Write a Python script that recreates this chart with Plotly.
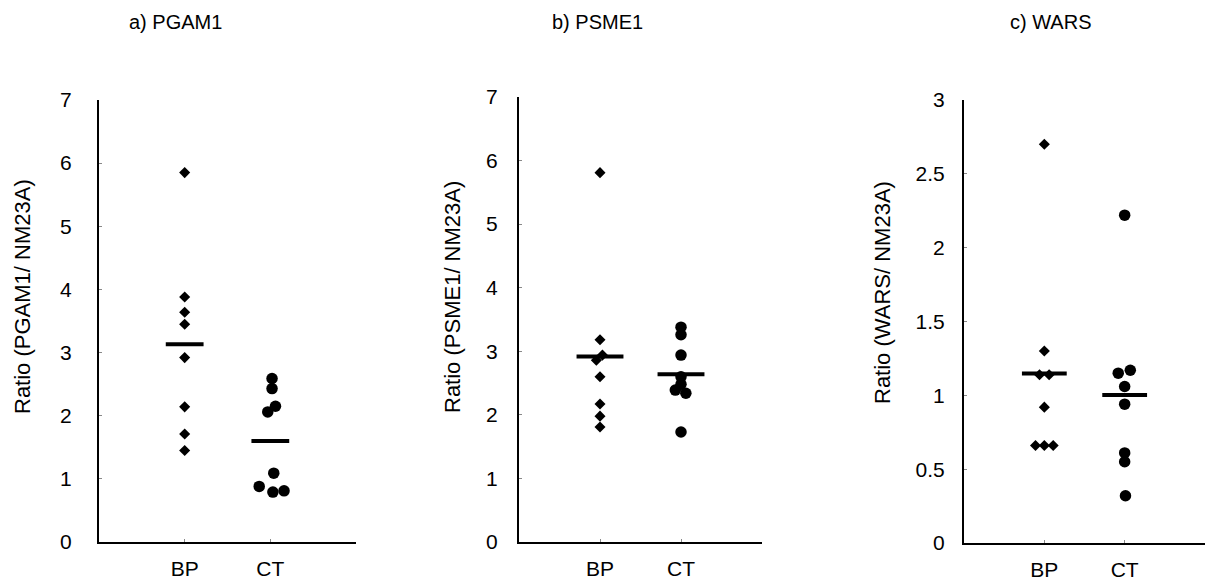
import plotly.graph_objects as go

W, H = 1205, 584

categories = ["BP", "CT"]
panel_titles = ["a) PGAM1", "b) PSME1", "c) WARS"]
y_titles = ["Ratio (PGAM1/ NM23A)", "Ratio (PSME1/ NM23A)", "Ratio (WARS/ NM23A)"]

# Panel a: PGAM1
pgam1_bp = [5.85, 3.88, 3.64, 3.45, 2.92, 2.14, 1.71, 1.45]
pgam1_bp_x = [1, 1, 1, 1, 1, 1, 1, 1]
pgam1_ct = [2.59, 2.43, 2.15, 2.06, 1.09, 0.88, 0.79, 0.81]
pgam1_ct_x = [2.02, 2.02, 2.06, 1.97, 2.04, 1.87, 2.03, 2.16]

# Panel b: PSME1
psme1_bp = [5.81, 3.18, 2.94, 2.86, 2.60, 2.17, 1.98, 1.81]
psme1_bp_x = [1, 1, 1.03, 0.955, 1, 1, 1, 1]
psme1_ct = [3.38, 3.26, 2.94, 2.60, 2.48, 2.39, 2.34, 1.73]
psme1_ct_x = [2, 2, 2, 2, 2, 1.93, 2.06, 2]

# Panel c: WARS
wars_bp = [2.70, 1.30, 1.14, 1.14, 0.92, 0.66, 0.66, 0.66]
wars_bp_x = [1, 1, 0.94, 1.06, 1, 0.89, 1, 1.11]
wars_ct = [2.22, 1.17, 1.15, 1.06, 0.94, 0.61, 0.55, 0.32]
wars_ct_x = [2, 2.07, 1.92, 2, 2, 2, 2, 2.01]

y_ranges = [[0, 7], [0, 7], [0, 3]]
y_dticks = [1, 1, 0.5]

FONT = "Liberation Sans, Arial, sans-serif"
FS = 21

# layout in pixels (left, right, top, bottom of plot area)
boxes = [(99, 356, 100, 542), (519, 762, 97, 542), (964, 1205, 100, 543)]
label_standoff = [21, 15, 13]
mean_sizes = [27, 33.5, 32]
title_pos = [(175, 22), (597, 22), (1050, 22)]
ytitle_pos = [(22, 297), (452, 297), (882, 293)]

panels = [
    (pgam1_bp_x, pgam1_bp, pgam1_ct_x, pgam1_ct),
    (psme1_bp_x, psme1_bp, psme1_ct_x, psme1_ct),
    (wars_bp_x, wars_bp, wars_ct_x, wars_ct),
]

fig = go.Figure()
annotations = []
for i, (bx, by, cx, cy) in enumerate(panels):
    sfx = "" if i == 0 else str(i + 1)
    xa, ya = "x" + sfx, "y" + sfx
    fig.add_trace(go.Scatter(x=bx, y=by, mode="markers", xaxis=xa, yaxis=ya,
                             marker=dict(symbol="diamond", size=8.5, color="black"),
                             showlegend=False))
    fig.add_trace(go.Scatter(x=cx, y=cy, mode="markers", xaxis=xa, yaxis=ya,
                             marker=dict(symbol="circle", size=11.5, color="black"),
                             showlegend=False))
    means = [sum(by) / len(by), sum(cy) / len(cy)]
    fig.add_trace(go.Scatter(x=[1, 2], y=means, mode="markers", xaxis=xa, yaxis=ya,
                             marker=dict(symbol="line-ew", size=mean_sizes[i],
                                         color="black",
                                         line=dict(color="black", width=4)),
                             showlegend=False))
    l, r, t, b = boxes[i]
    xdom = [l / W, min(r / W, 1.0)]
    ydom = [1 - b / H, 1 - t / H]
    xkey = "xaxis" + sfx
    ykey = "yaxis" + sfx
    fig.layout[xkey] = dict(domain=xdom, range=[0, 3], anchor=ya, automargin=False,
                            tickmode="array", tickvals=[1, 2, 3],
                            ticktext=categories + [""],
                            ticks="inside", ticklen=3, tickcolor="#888", tickwidth=1,
                            showline=True, linecolor="black", linewidth=2,
                            showgrid=False, zeroline=False,
                            ticklabelstandoff=7,
                            tickfont=dict(family=FONT, size=FS, color="black"))
    fig.layout[ykey] = dict(domain=ydom, range=y_ranges[i], anchor=xa, automargin=False,
                            dtick=y_dticks[i], tick0=0,
                            ticks="inside", ticklen=3, tickcolor="#888", tickwidth=1,
                            showline=True, linecolor="black", linewidth=2,
                            showgrid=False, zeroline=False,
                            ticklabelstandoff=label_standoff[i],
                            tickfont=dict(family=FONT, size=FS, color="black"))
    tx, ty = title_pos[i]
    annotations.append(dict(text=panel_titles[i], x=tx / W, y=1 - ty / H,
                            xref="paper", yref="paper", showarrow=False,
                            xanchor="center", yanchor="middle",
                            font=dict(family=FONT, size=20, color="black")))
    yx, yy = ytitle_pos[i]
    annotations.append(dict(text=y_titles[i], x=yx / W, y=1 - yy / H,
                            xref="paper", yref="paper", showarrow=False,
                            textangle=-90, xanchor="center", yanchor="middle",
                            font=dict(family=FONT, size=22, color="black")))

fig.update_layout(template="none", width=W, height=H,
                  margin=dict(l=0, r=0, t=0, b=0, pad=0, autoexpand=False),
                  paper_bgcolor="white", plot_bgcolor="white",
                  annotations=annotations, showlegend=False)

fig.write_html("out.html", config={"displayModeBar": False},
               post_script="document.body.style.margin='0';"
                           "document.documentElement.style.overflow='hidden';")
